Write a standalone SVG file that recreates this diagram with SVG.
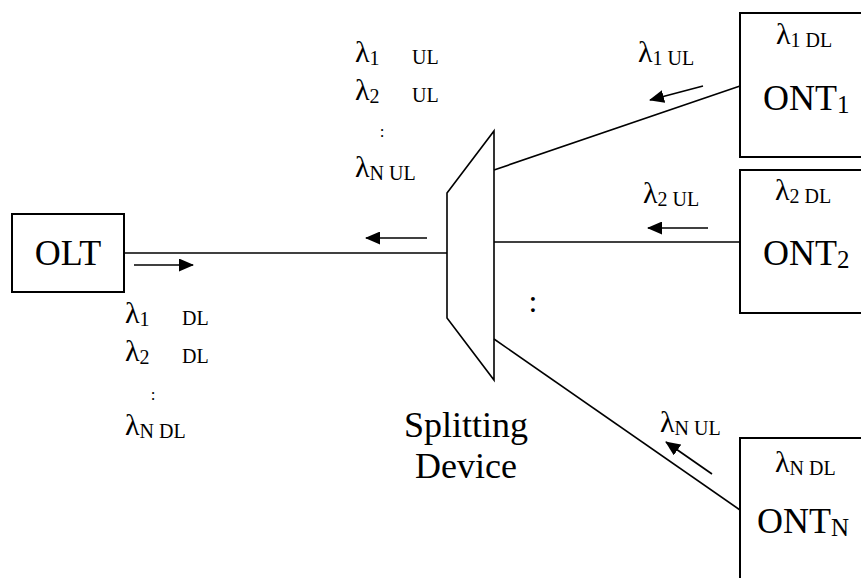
<svg xmlns="http://www.w3.org/2000/svg" width="861" height="578" viewBox="0 0 861 578">
<style>
text{font-family:"Liberation Serif","Times New Roman",serif;fill:#000}
.box{fill:#fff;stroke:#000;stroke-width:2}
.ln{stroke:#000;stroke-width:1.6;fill:none}
.ar{stroke:#000;stroke-width:1.6;fill:none;marker-end:url(#ah)}
.lam{font-size:30px}
.sub{font-size:20px}
.big{font-size:36px}
</style>
<defs>
<marker id="ah" markerWidth="15" markerHeight="13" refX="14" refY="6.5" orient="auto" markerUnits="userSpaceOnUse">
<path d="M0,0 L15,6.5 L0,13 z" fill="#000"/>
</marker>
</defs>
<rect width="861" height="578" fill="#fff"/>
<g id="connectors">
<line class="ln" x1="124" y1="253" x2="447" y2="253"/>
<line class="ln" x1="494" y1="170" x2="740" y2="86"/>
<line class="ln" x1="494" y1="242" x2="740" y2="242"/>
<line class="ln" x1="494" y1="339" x2="740" y2="510"/>
<line class="ar" x1="134" y1="265" x2="193" y2="265"/>
<line class="ar" x1="427" y1="238" x2="366" y2="238"/>
<line class="ar" x1="703" y1="86" x2="650" y2="100"/>
<line class="ar" x1="708" y1="228" x2="648" y2="228"/>
<line class="ar" x1="712" y1="474" x2="666" y2="442"/>
</g>
<g id="olt">
<rect class="box" x="12" y="214" width="112" height="78"/>
<text class="big" x="68" y="265" text-anchor="middle">OLT</text>
</g>
<g id="splitter">
<polygon class="ln" points="447,193 494,131 494,380 447,318" fill="#fff"/>
<text x="466" y="437" font-size="36" text-anchor="middle">Splitting</text>
<text x="466" y="478" font-size="36" text-anchor="middle">Device</text>
</g>
<g id="ont1">
<rect class="box" x="740" y="13" width="130" height="144"/>
<text x="776" y="44"><tspan class="lam">λ</tspan><tspan class="sub" dy="3">1 DL</tspan></text>
<text x="763" y="110"><tspan class="big">ONT</tspan><tspan font-size="25" dy="3">1</tspan></text>
</g>
<g id="ont2">
<rect class="box" x="740" y="170" width="130" height="143"/>
<text x="775" y="200"><tspan class="lam">λ</tspan><tspan class="sub" dy="3">2 DL</tspan></text>
<text x="763" y="265"><tspan class="big">ONT</tspan><tspan font-size="25" dy="3">2</tspan></text>
</g>
<g id="ontN">
<rect class="box" x="740" y="438" width="130" height="150"/>
<text x="775" y="472"><tspan class="lam">λ</tspan><tspan class="sub" dy="3">N DL</tspan></text>
<text x="757" y="533"><tspan class="big">ONT</tspan><tspan font-size="25" dy="3">N</tspan></text>
</g>
<g id="labels">
<text x="638" y="62"><tspan class="lam">λ</tspan><tspan class="sub" dy="3">1 UL</tspan></text>
<text x="643" y="203"><tspan class="lam">λ</tspan><tspan class="sub" dy="3">2 UL</tspan></text>
<text x="660" y="432"><tspan class="lam">λ</tspan><tspan class="sub" dy="3">N UL</tspan></text>
<text x="355" y="62"><tspan class="lam">λ</tspan><tspan class="sub" dy="3">1</tspan></text>
<text x="412" y="64" class="sub">UL</text>
<text x="355" y="100"><tspan class="lam">λ</tspan><tspan class="sub" dy="3">2</tspan></text>
<text x="412" y="102" class="sub">UL</text>
<text x="382" y="137" font-size="17" text-anchor="middle">:</text>
<text x="355" y="177"><tspan class="lam">λ</tspan><tspan class="sub" dy="3">N UL</tspan></text>
<text x="125" y="323"><tspan class="lam">λ</tspan><tspan class="sub" dy="3">1</tspan></text>
<text x="182" y="325" class="sub">DL</text>
<text x="125" y="361"><tspan class="lam">λ</tspan><tspan class="sub" dy="3">2</tspan></text>
<text x="182" y="363" class="sub">DL</text>
<text x="153" y="400" font-size="17" text-anchor="middle">:</text>
<text x="125" y="435"><tspan class="lam">λ</tspan><tspan class="sub" dy="3">N DL</tspan></text>
<text x="533" y="312" font-size="32" text-anchor="middle">:</text>
</g>
</svg>
